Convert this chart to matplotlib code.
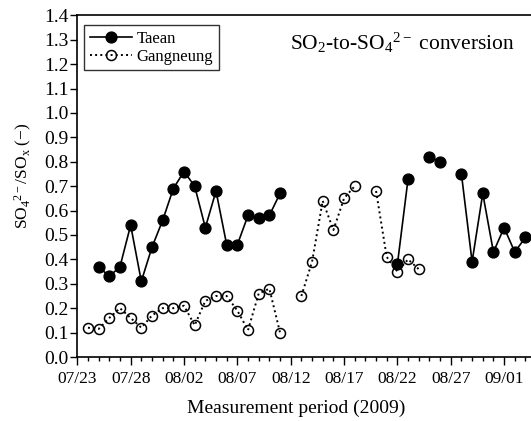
import numpy as np
import matplotlib
matplotlib.use("Agg")
import matplotlib.pyplot as plt
import pandas as pd

plt.rcParams['font.family'] = ['Liberation Serif', 'DejaVu Serif']
plt.rcParams['mathtext.fontset'] = 'custom'
plt.rcParams['mathtext.rm'] = 'Liberation Serif'
plt.rcParams['mathtext.it'] = 'Liberation Serif:italic'
plt.rcParams['mathtext.bf'] = 'Liberation Serif:bold'

# ---- data ----
dates = pd.date_range("2009-07-23", "2009-09-03", freq="D")
taean = [None, None, 0.37, 0.33, 0.37, 0.54, 0.31, 0.45, 0.56, 0.69,
         0.76, 0.70, 0.53, 0.68, 0.46, 0.46, 0.58, 0.57, 0.58, 0.67,
         None, None, None, None, None, None, None, None, None, None,
         0.38, 0.73, None, 0.82, 0.80, None, 0.75, 0.39, 0.67, 0.43,
         0.53, 0.43, 0.49]
gangneung = [None, 0.12, 0.115, 0.16, 0.20, 0.16, 0.12, 0.17, 0.20, 0.20,
             0.21, 0.13, 0.23, 0.25, 0.25, 0.19, 0.11, 0.26, 0.28, 0.10,
             None, 0.25, 0.39, 0.64, 0.52, 0.65, 0.70, None, 0.68, 0.41,
             0.35, 0.40, 0.36, None, None, None, None, None, None, None,
             None, None, None]
tick_labels = ["07/23", "07/28", "08/02", "08/07", "08/12", "08/17",
               "08/22", "08/27", "09/01"]
yticks = [round(0.1 * i, 1) for i in range(15)]

x = np.array([(d - dates[0]).days for d in dates], dtype=float)
t = np.array([np.nan if v is None else v for v in taean], dtype=float)
g = np.array([np.nan if v is None else v for v in gangneung], dtype=float)

W, H = 531, 421
fig = plt.figure(figsize=(W / 100, H / 100), dpi=100)
ax = fig.add_axes([77.3 / W, (H - 357) / H, 1 - 77.3 / W, (357 - 15.3) / H])

ax.plot(x, t, '-', color='black', lw=1.2, marker='o', ms=7.8,
        mfc='black', mec='black', label='Taean', zorder=3)
ax.plot(x, g, ':', color='black', lw=1.4, marker='o', ms=7.2,
        mfc='none', mec='black', mew=1.1, label='Gangneung', zorder=2)

ax.set_xlim(0, (W - 77.3) / 10.67)
ax.set_ylim(0, 1.4)
ax.set_yticks(yticks)
ax.set_yticklabels([f"{v:.1f}" for v in yticks])
ax.set_xticks([i * 5 for i in range(len(tick_labels))])
ax.set_xticklabels(tick_labels)
ax.set_xticks(x, minor=True)

ax.tick_params(axis='both', which='major', direction='out', length=5,
               width=1.0, labelsize=14, colors='black', pad=1.5)
ax.tick_params(axis='x', which='minor', direction='out', length=3, width=1.0)
ax.tick_params(axis='x', which='major', length=6, pad=4, labelsize=12.5)

ax.spines['right'].set_visible(False)
for s in ['left', 'top', 'bottom']:
    ax.spines[s].set_linewidth(1.2)

ax.set_xlabel('Measurement period (2009)', fontsize=14, labelpad=11)
ax.xaxis.set_label_coords((296 - 77.3) / (W - 77.3), -0.125)
fig.text(23 / W, 1 - 176 / H, r'$\mathrm{SO_4{}^{2-}/SO_x}$ (−)',
         rotation=90, ha='center', va='center', fontsize=12.5)

fig.text(515 / W, 1 - 43 / H,
         r'$\mathrm{SO_2}$-to-$\mathrm{SO_4{}^{2-}}$ conversion',
         ha='right', va='center', fontsize=15.5)

leg = ax.legend(loc='upper left', bbox_to_anchor=(0.008, 0.982), frameon=True,
                fancybox=False, edgecolor='black', fontsize=12,
                handlelength=2.5, handletextpad=0.3, borderpad=0.35,
                labelspacing=0.12, borderaxespad=0.2)
leg.get_frame().set_linewidth(1.0)

fig.savefig('out.png', dpi=100)
